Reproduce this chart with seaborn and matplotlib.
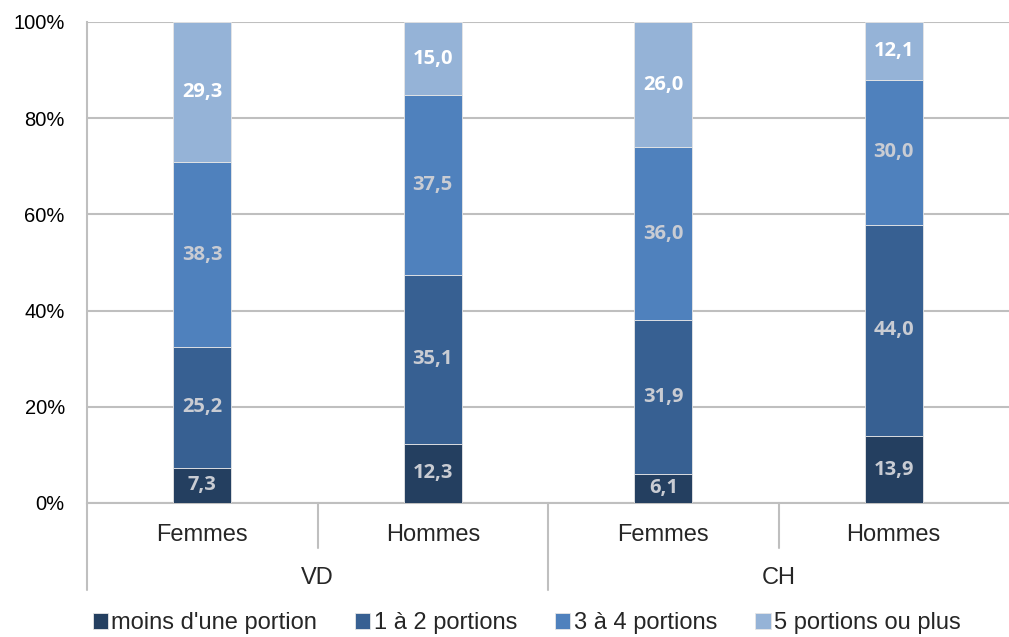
import numpy as np
import pandas as pd
import matplotlib
matplotlib.use("Agg")
import matplotlib.pyplot as plt
import matplotlib.transforms as mtransforms
import seaborn as sns

# Data
regions = ["VD", "CH"]
sexes = ["Femmes", "Hommes", "Femmes", "Hommes"]
bar_keys = ["VD Femmes", "VD Hommes", "CH Femmes", "CH Hommes"]
levels = ["moins d'une portion", "1 à 2 portions", "3 à 4 portions", "5 portions ou plus"]
moins_une = [7.3, 12.3, 6.1, 13.9]
une_deux = [25.2, 35.1, 31.9, 44.0]
trois_quatre = [38.3, 37.5, 36.0, 30.0]
cinq_plus = [29.3, 15.0, 26.0, 12.1]
series = [moins_une, une_deux, trois_quatre, cinq_plus]

colors = ["#243f60", "#376092", "#4f81bd", "#95b3d7"]
label_colors = ["#c9ccd3", "#c9ccd3", "#c9ccd3", "#ffffff"]

sns.set_theme(style="white")
plt.rcParams['font.family'] = ['Liberation Sans', 'DejaVu Sans']

fig = plt.figure(figsize=(10.09, 6.37), dpi=100)
ax = fig.add_axes([87 / 1009, 1 - 503 / 637, 922 / 1009, 481 / 637])

bottom = np.zeros(len(bar_keys))
for lev, vals, col in zip(levels, series, colors):
    df = pd.DataFrame({"groupe": bar_keys, "pct": vals})
    sns.barplot(data=df, x="groupe", y="pct", order=bar_keys, bottom=bottom,
                color=col, saturation=1, width=0.25, ax=ax, label=lev,
                edgecolor="#e6e6e6", linewidth=0.6, zorder=3)
    bottom = bottom + np.array(vals)
if ax.get_legend() is not None:
    ax.get_legend().remove()

# value labels
for cont, vals, lc in zip(ax.containers, series, label_colors):
    ax.bar_label(cont, labels=[f"{v:.1f}".replace(".", ",") for v in vals],
                 label_type="center", color=lc, fontsize=14.5,
                 fontweight="bold", family="Open Sans")

ax.set_xlim(-0.5, 3.5)
ax.set_ylim(0, 100)
ax.set_yticks([0, 20, 40, 60, 80, 100])
ax.set_yticklabels([f"{t}%" for t in [0, 20, 40, 60, 80, 100]], fontsize=14.5)
ax.tick_params(axis="y", length=0, pad=16, colors="black")
ax.grid(axis="y", color="#bfbfbf", linewidth=1.5, zorder=0)
ax.set_axisbelow(True)
ax.set_xticks([])
ax.set_xlabel("")
ax.set_ylabel("")
for s in ["top", "right", "bottom"]:
    ax.spines[s].set_visible(False)
ax.spines["left"].set_color("#bfbfbf")
ax.spines["left"].set_linewidth(1.5)

# two-level category axis
trans = mtransforms.blended_transform_factory(ax.transData, ax.transAxes)
ax.plot([-0.5, 3.5], [0, 0], transform=trans, color="#bfbfbf", lw=1.5, clip_on=False)
for x in [-0.5, 1.5]:
    ax.plot([x, x], [0, -0.181], transform=trans, color="#bfbfbf", lw=1.5, clip_on=False)
for x in [0.5, 2.5]:
    ax.plot([x, x], [0, -0.094], transform=trans, color="#bfbfbf", lw=1.5, clip_on=False)
for i, s in enumerate(sexes):
    ax.text(i, -0.066, s, transform=trans, ha="center", va="center", fontsize=17)
for i, r in enumerate(regions):
    ax.text(2 * i + 0.5, -0.155, r, transform=trans, ha="center", va="center", fontsize=17)

handles = ax.containers
fig.legend(handles, levels, loc="center", bbox_to_anchor=(0.522, 1 - 623 / 637), ncol=4,
           frameon=False, fontsize=17, handlelength=0.65, handleheight=0.65,
           handletextpad=0.15, columnspacing=1.6, borderpad=0, borderaxespad=0)

fig.savefig("out.png", dpi=100)
